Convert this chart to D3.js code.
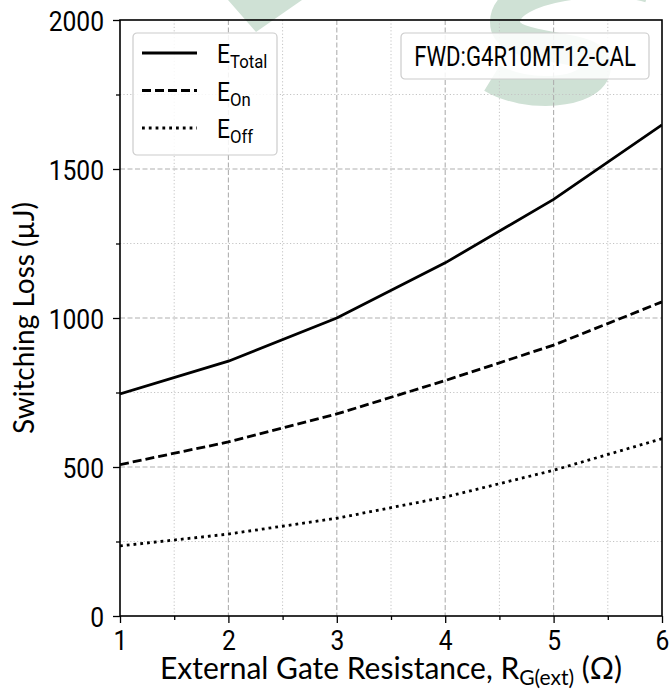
<!DOCTYPE html>
<html>
<head>
<meta charset="utf-8">
<script src="https://cdn.jsdelivr.net/npm/d3@7"></script>
<style>
  html, body { margin: 0; padding: 0; background: #ffffff; }
  svg { display: block; }
</style>
</head>
<body>
<div id="chart"></div>
<script>
// ---------------- data ----------------
const xValues = [1, 2, 3, 4, 5, 6];
const eTotal = [745, 855, 1000, 1185, 1398, 1648];
const eOn    = [508, 584, 678, 790, 909, 1054];
const eOff   = [235, 275, 328, 399, 489, 595];
const xTicks = [1, 2, 3, 4, 5, 6];
const xMinorTicks = [1.5, 2.5, 3.5, 4.5, 5.5];
const yTicks = [0, 500, 1000, 1500, 2000];
const yMinorTicks = [250, 750, 1250, 1750];
const seriesNames = ["Total", "On", "Off"];
const annotationText = "FWD:G4R10MT12-CAL";
const yLabel = "Switching Loss (µJ)";
const xLabelMain = "External Gate Resistance, R";
const xLabelSub = "G(ext)";
const xLabelTail = " (Ω)";

// ---------------- layout ----------------
const W = 669, H = 698;
const margin = { top: 20, right: 7, bottom: 82, left: 120 };
const iw = W - margin.left - margin.right;
const ih = H - margin.top - margin.bottom;
const tickFont = "Roboto, 'Noto Sans', sans-serif";
const condense = 0.88;

const svg = d3.select("#chart").append("svg").attr("width", W).attr("height", H);

// watermark (faint logo behind the plot)
const wm = svg.append("g").attr("fill", "#cfe1d5").attr("stroke", "none");
wm.append("path").attr("d", "M228,0 L302,0 L256,32 Z");
svg.append("path")
  .attr("d", "M650,-12 C610,-25 505,-15 505,22 C505,55 600,40 596,68 C592,95 525,98 492,78")
  .attr("fill", "none").attr("stroke", "#cfe1d5").attr("stroke-width", 30);

const x = d3.scaleLinear().domain([1, 6]).range([0, iw]);
const y = d3.scaleLinear().domain([0, 2000]).range([ih, 0]);

const g = svg.append("g").attr("transform", `translate(${margin.left},${margin.top})`);

// grid: minor dotted
g.append("g").selectAll("line").data(xMinorTicks).join("line")
  .attr("x1", d => x(d)).attr("x2", d => x(d)).attr("y1", 0).attr("y2", ih)
  .attr("stroke", "#c4c4c4").attr("stroke-width", 1).attr("stroke-dasharray", "1.2,2.2");
g.append("g").selectAll("line").data(yMinorTicks).join("line")
  .attr("y1", d => y(d)).attr("y2", d => y(d)).attr("x1", 0).attr("x2", iw)
  .attr("stroke", "#c4c4c4").attr("stroke-width", 1).attr("stroke-dasharray", "1.2,2.2");
// grid: major dashed
g.append("g").selectAll("line").data(xTicks.slice(1, -1)).join("line")
  .attr("x1", d => x(d)).attr("x2", d => x(d)).attr("y1", 0).attr("y2", ih)
  .attr("stroke", "#b0b0b0").attr("stroke-width", 1.1).attr("stroke-dasharray", "5,2.5");
g.append("g").selectAll("line").data(yTicks.slice(1, -1)).join("line")
  .attr("y1", d => y(d)).attr("y2", d => y(d)).attr("x1", 0).attr("x2", iw)
  .attr("stroke", "#b0b0b0").attr("stroke-width", 1.1).attr("stroke-dasharray", "5,2.5");

// series
const line = d3.line().x((d, i) => x(xValues[i])).y(d => y(d));
const series = [
  { name: seriesNames[0], values: eTotal, dash: null },
  { name: seriesNames[1], values: eOn, dash: "9,4" },
  { name: seriesNames[2], values: eOff, dash: "2.8,4" }
];
svg.append("defs").append("clipPath").attr("id", "clip")
  .append("rect").attr("x", 0).attr("y", 0).attr("width", iw).attr("height", ih);
g.append("g").attr("clip-path", "url(#clip)").selectAll("path").data(series).join("path")
  .attr("d", d => line(d.values))
  .attr("fill", "none").attr("stroke", "#000").attr("stroke-width", 2.8)
  .attr("stroke-dasharray", d => d.dash);

// axes
const fmt = d3.format("d");
const yAxis = g.append("g").call(d3.axisLeft(y).tickValues(yTicks).tickSize(7).tickSizeOuter(0).tickFormat(fmt));
const yMinor = g.append("g").call(d3.axisLeft(y).tickValues(yMinorTicks).tickSize(4).tickFormat(""));
const xAxis = g.append("g").attr("transform", `translate(0,${ih})`)
  .call(d3.axisBottom(x).tickValues(xTicks).tickSize(7).tickSizeOuter(0).tickFormat(fmt));
const xMinor = g.append("g").attr("transform", `translate(0,${ih})`)
  .call(d3.axisBottom(x).tickValues(xMinorTicks).tickSize(4).tickFormat(""));
[yMinor, xMinor].forEach(a => a.selectAll("text").remove());
[yAxis, yMinor, xAxis, xMinor].forEach(a => {
  a.select(".domain").remove();
  a.selectAll(".tick line").attr("stroke", "#000").attr("stroke-width", 1.3);
});
yAxis.selectAll("text")
  .attr("font-family", tickFont).attr("font-size", 28).attr("fill", "#000")
  .attr("transform", `scale(${condense},1)`).attr("x", -16 / condense).attr("dy", "0.36em");
xAxis.selectAll("text")
  .attr("font-family", tickFont).attr("font-size", 28).attr("fill", "#000")
  .attr("transform", `scale(${condense},1)`).attr("y", 14).attr("dy", "0.71em");

// spines
g.append("rect").attr("x", 0).attr("y", 0).attr("width", iw).attr("height", ih)
  .attr("fill", "none").attr("stroke", "#000").attr("stroke-width", 1.6);

// axis labels
svg.append("text")
  .attr("transform", `translate(34,${margin.top + ih / 2}) rotate(-90)`)
  .attr("text-anchor", "middle").attr("font-family", "Lato, sans-serif").attr("font-size", 28)
  .attr("fill", "#000").text(yLabel);
const xl = svg.append("text")
  .attr("x", margin.left + iw / 2).attr("y", 679)
  .attr("text-anchor", "middle").attr("font-family", "Lato, sans-serif").attr("font-size", 30)
  .attr("fill", "#000");
xl.append("tspan").text(xLabelMain);
xl.append("tspan").attr("font-size", 21).attr("dy", 6).text(xLabelSub);
xl.append("tspan").attr("dy", -6).text(xLabelTail);

// legend
const lg = g.append("g").attr("transform", "translate(13,13)");
lg.append("rect").attr("width", 144).attr("height", 122).attr("rx", 4).attr("ry", 4)
  .attr("fill", "#fff").attr("fill-opacity", 0.85).attr("stroke", "#cccccc").attr("stroke-width", 1.2);
const items = lg.selectAll("g.item").data(series).join("g")
  .attr("transform", (d, i) => `translate(0,${20 + i * 37.5})`);
items.append("line").attr("x1", 9).attr("x2", 64).attr("y1", 0).attr("y2", 0)
  .attr("stroke", "#000").attr("stroke-width", 2.8).attr("stroke-dasharray", d => d.dash);
const lt = items.append("text").attr("x", 84 / condense).attr("y", 10)
  .attr("transform", `scale(${condense},1)`)
  .attr("font-family", tickFont).attr("font-size", 26).attr("fill", "#000");
lt.append("tspan").text("E");
lt.append("tspan").attr("font-size", 19).attr("dy", 5).text(d => d.name);

// annotation box
const ab = g.append("g").attr("transform", "translate(281,13)");
ab.append("rect").attr("width", 248).attr("height", 46).attr("rx", 4).attr("ry", 4)
  .attr("fill", "#fff").attr("fill-opacity", 0.85).attr("stroke", "#cccccc").attr("stroke-width", 1.2);
ab.append("text").attr("x", 124 / 0.82).attr("y", 33)
  .attr("transform", "scale(0.82,1)").attr("text-anchor", "middle")
  .attr("font-family", tickFont).attr("font-size", 27).attr("fill", "#000").text(annotationText);
</script>
</body>
</html>
